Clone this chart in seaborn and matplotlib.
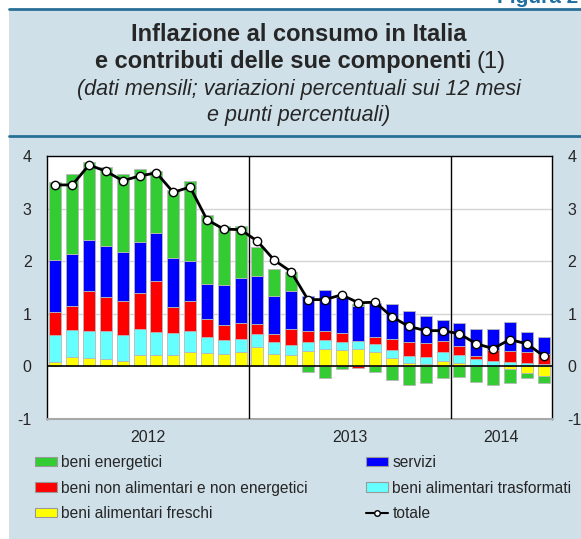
import matplotlib
matplotlib.use("Agg")
import matplotlib.pyplot as plt
from matplotlib.patches import Patch, Rectangle
from matplotlib.lines import Line2D
import numpy as np
import seaborn as sns

#### dati mensili gen 2012 - giu 2014 (contributi in punti percentuali)
mesi = np.arange(30)
anni = ["2012", "2013", "2014"]
pos_anni = [5.5, 17.5, 26.5]

freschi = [0.08, 0.18, 0.16, 0.14, 0.10, 0.22, 0.22, 0.22, 0.27, 0.25, 0.23, 0.27,
           0.36, 0.23, 0.22, 0.29, 0.33, 0.31, 0.33, 0.27, 0.16, 0.06, 0.04, 0.11,
           0.07, 0.03, 0.01, -0.05, -0.12, -0.18]
trasformati = [0.52, 0.52, 0.52, 0.53, 0.50, 0.50, 0.44, 0.42, 0.41, 0.30, 0.27, 0.25,
               0.25, 0.24, 0.18, 0.17, 0.18, 0.16, 0.16, 0.16, 0.16, 0.14, 0.14, 0.17,
               0.15, 0.12, 0.10, 0.08, 0.06, 0.05]
non_alim = [0.43, 0.44, 0.75, 0.64, 0.64, 0.67, 0.96, 0.48, 0.56, 0.35, 0.28, 0.30,
            0.19, 0.14, 0.31, 0.22, 0.17, 0.16, -0.03, 0.12, 0.21, 0.26, 0.26, 0.21,
            0.16, 0.05, 0.21, 0.22, 0.22, 0.19]
servizi = [0.99, 1.00, 0.97, 0.98, 0.93, 0.97, 0.92, 0.94, 0.76, 0.66, 0.76, 0.86,
           0.91, 0.72, 0.72, 0.66, 0.77, 0.68, 0.66, 0.66, 0.65, 0.60, 0.51, 0.40,
           0.45, 0.52, 0.39, 0.55, 0.37, 0.32]
energetici = [1.49, 1.51, 1.49, 1.50, 1.48, 1.39, 1.17, 1.29, 1.53, 1.32, 1.12, 0.98,
              0.56, 0.52, 0.36, -0.10, -0.23, -0.05, 0.03, -0.10, -0.25, -0.36, -0.32, -0.23,
              -0.20, -0.29, -0.35, -0.26, -0.11, -0.13]
totale = [3.45, 3.45, 3.83, 3.71, 3.53, 3.62, 3.68, 3.31, 3.41, 2.79, 2.61, 2.60,
          2.38, 2.02, 1.80, 1.27, 1.27, 1.36, 1.21, 1.22, 0.94, 0.76, 0.68, 0.68,
          0.62, 0.43, 0.34, 0.51, 0.43, 0.20]

serie = [
    ("beni alimentari freschi", freschi, "#ffff00"),
    ("beni alimentari trasformati", trasformati, "#66ffff"),
    ("beni non alimentari e non energetici", non_alim, "#ff0000"),
    ("servizi", servizi, "#0000ff"),
    ("beni energetici", energetici, "#33cc33"),
]

sns.set_style("white")
plt.rcParams["font.family"] = ["Liberation Sans", "DejaVu Sans"]

fig = plt.figure(figsize=(5.81, 5.39), dpi=100)
W, H = 581, 539
sfondo = "#cfe0e9"
blu = "#2a6f97"

fig.add_artist(Rectangle((9 / W, 0), 1, 1 - 9 / H, transform=fig.transFigure,
                         facecolor=sfondo, edgecolor="none", zorder=-10))
for yy in [9, 136]:
    fig.add_artist(Line2D([9 / W, 1], [1 - yy / H, 1 - yy / H], transform=fig.transFigure,
                          color=blu, lw=2))
fig.text(497 / W, 1 - 3 / H, "Figura 2", color="#1f6fa0", fontsize=15, fontweight="bold",
         va="baseline", ha="left")

# titolo
cx = 299 / W
fig.text(cx, 1 - 41 / H, "Inflazione al consumo in Italia", ha="center", va="baseline",
         fontsize=17, fontweight="bold")
fig.text(471 / W, 1 - 67.7 / H, "e contributi delle sue componenti", ha="right",
         va="baseline", fontsize=17, fontweight="bold")
fig.text(476 / W, 1 - 67.7 / H, "(1)", ha="left", va="baseline", fontsize=17)
fig.text(cx, 1 - 95 / H, "(dati mensili; variazioni percentuali sui 12 mesi", ha="center",
         va="baseline", fontsize=15.5, style="italic")
fig.text(cx, 1 - 120.7 / H, "e punti percentuali)", ha="center", va="baseline",
         fontsize=15.5, style="italic")

ax = fig.add_axes([47 / W, 1 - 419 / H, 505 / W, 263 / H])
ax.set_facecolor("white")

pos_bottom = np.zeros(30)
neg_bottom = np.zeros(30)
for nome, vals, col in serie:
    v = np.array(vals)
    base = np.where(v >= 0, pos_bottom, neg_bottom)
    ax.bar(mesi, v, bottom=base, width=0.72, color=col, edgecolor="#b8b8b8",
           linewidth=0.6, zorder=2)
    pos_bottom = pos_bottom + np.where(v >= 0, v, 0)
    neg_bottom = neg_bottom + np.where(v < 0, v, 0)

sns.lineplot(x=mesi, y=totale, ax=ax, color="black", lw=2, marker="o", markersize=6,
             markerfacecolor="white", markeredgecolor="black", markeredgewidth=1, zorder=4)

for g in [1, 2, 3]:
    ax.axhline(g, color="#d4d4d4", lw=1, zorder=0)
ax.axhline(0, color="black", lw=1.2, zorder=3)
for d in [11.5, 23.5]:
    ax.axvline(d, color="black", lw=1, zorder=3)

ax.set_xlim(-0.5, 29.5)
ax.set_ylim(-1, 4)
ax.set_yticks([-1, 0, 1, 2, 3, 4])
ax.set_yticklabels(["-1", "0", "1", "2", "3", "4"])
ax.tick_params(axis="y", length=0, labelsize=11.5, pad=11, labelright=True)
ax.set_xticks(pos_anni)
ax.set_xticklabels(anni)
ax.set_xticks([b + 0.5 for b in range(29) if b + 0.5 not in pos_anni], minor=True)
ax.tick_params(axis="x", which="major", direction="in", length=8, color="#808080",
               labelsize=11.5, pad=8)
ax.tick_params(axis="x", which="minor", direction="in", length=4, color="#808080")
for s in ["left", "right", "top"]:
    ax.spines[s].set_color("black")
    ax.spines[s].set_linewidth(1)
ax.spines["bottom"].set_color("#a8a8a8")
ax.spines["bottom"].set_linewidth(1.5)
ax.set_xlabel("")
ax.set_ylabel("")

def patch(col):
    return Patch(facecolor=col, edgecolor="#999999", linewidth=0.8)

leg_kw = dict(frameon=False, fontsize=11.2, handlelength=1.4, handleheight=0.55,
              handletextpad=0.3, labelspacing=0.68, borderpad=0, borderaxespad=0)
sinistra = [patch("#33cc33"), patch("#ff0000"), patch("#ffff00")]
fig.legend(sinistra, ["beni energetici", "beni non alimentari e non energetici",
                      "beni alimentari freschi"],
           loc="upper left", bbox_to_anchor=(35 / W, 1 - 455 / H), **leg_kw)
destra = [patch("#0000ff"), patch("#66ffff"),
          Line2D([], [], color="black", lw=1.5, marker="o", markersize=4,
                 markerfacecolor="white", markeredgecolor="black")]
fig.legend(destra, ["servizi", "beni alimentari trasformati", "totale"],
           loc="upper left", bbox_to_anchor=(366 / W, 1 - 455 / H), **leg_kw)

fig.savefig("out.png", dpi=100)
